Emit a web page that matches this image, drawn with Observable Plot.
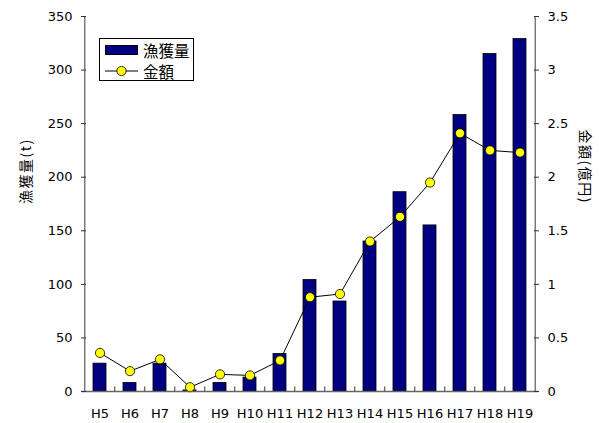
<!DOCTYPE html>
<html>
<head>
<meta charset="utf-8">
<script src="https://cdn.jsdelivr.net/npm/d3@7"></script>
<script src="https://cdn.jsdelivr.net/npm/@observablehq/plot@0.6"></script>
<style>
  html, body { margin: 0; padding: 0; background: #fff; }
  #wrap { position: relative; width: 599px; height: 423px; }
  #legend {
    position: absolute; left: 99px; top: 38px; width: 93px; height: 41px;
    border: 1px solid #000; background: #fff;
    font-family: "Noto Sans CJK JP", sans-serif; font-size: 15.5px; color: #000;
  }
  .row { position: absolute; left: 0; height: 20px; display: flex; align-items: center; }
  .sw { width: 33px; height: 20px; position: relative; margin-left: 5px; margin-right: 5px; }
</style>
</head>
<body>
<div id="wrap"></div>
<script>
const years = ["H5","H6","H7","H8","H9","H10","H11","H12","H13","H14","H15","H16","H17","H18","H19"];
const catchT = [26, 8, 26, 1, 8, 13, 35, 104, 84, 140, 186, 155, 258, 315, 329];
const amountOku = [0.36, 0.19, 0.30, 0.04, 0.16, 0.15, 0.29, 0.88, 0.91, 1.40, 1.63, 1.95, 2.41, 2.25, 2.23];
const leftTicks = [0, 50, 100, 150, 200, 250, 300, 350];
const rightTickLabels = ["0", "0.5", "1", "1.5", "2", "2.5", "3", "3.5"];
const seriesNames = ["漁獲量", "金額"];
const leftTitle = "漁獲量(t)";
const rightTitle = "金額(億円)";

const scaleRatio = 350 / 3.5; // right axis mapped onto left axis
const data = years.map((y, i) => ({year: y, catchT: catchT[i], amount: amountOku[i]}));

const W = 599, H = 423;
const mL = 81, mR = 61, mT = 16, mB = 32;
const step = (W - mL - mR) / years.length;

const font = "DejaVu Sans, Noto Sans CJK JP, sans-serif";

const chart = Plot.plot({
  width: W, height: H,
  marginLeft: mL, marginRight: mR, marginTop: mT, marginBottom: mB,
  style: {fontFamily: font, fontSize: "13px", color: "#000", background: "#fff"},
  x: {domain: years, paddingInner: 0.57, paddingOuter: 0.285, align: 0.5},
  y: {domain: [0, 350]},
  marks: [
    Plot.barY(data, {x: "year", y: "catchT", fill: "#000080", stroke: "#000", strokeWidth: 0.8}),
    Plot.lineY(data, {x: "year", y: d => d.amount * scaleRatio, stroke: "#000", strokeWidth: 1}),
    Plot.dot(data, {x: "year", y: d => d.amount * scaleRatio, r: 4.6, fill: "#ffff00", stroke: "#000", strokeWidth: 0.8}),
    // x boundary ticks (between categories, pointing up)
    Plot.ruleX(years.slice(1), {x: d => d, dx: -step / 2, y1: 0, y2: 4.5 * 350 / (H - mT - mB), stroke: "#333", strokeWidth: 1}),
    Plot.ruleY([0], {stroke: "#666", strokeWidth: 1.3}),
    Plot.ruleX([years[0]], {dx: -step / 2, stroke: "#666", strokeWidth: 1.3}),
    Plot.ruleX([years[years.length - 1]], {dx: step / 2, stroke: "#666", strokeWidth: 1.3}),
    Plot.axisY({anchor: "left", ticks: leftTicks, tickSize: -5, tickPadding: 14, label: null, stroke: "#333"}),
    Plot.axisY({anchor: "right", ticks: leftTicks, tickSize: -5, tickPadding: 14, label: null,
      tickFormat: (d) => rightTickLabels[leftTicks.indexOf(d)], stroke: "#333"}),
    Plot.axisX({tickSize: 0, tickPadding: 17, label: null}),
    Plot.text([leftTitle], {frameAnchor: "left", dx: -55, rotate: -90, text: d => d, fontFamily: "Noto Sans CJK JP", fontSize: 14}),
    Plot.text([rightTitle], {frameAnchor: "right", dx: 46, rotate: 90, text: d => d, fontFamily: "Noto Sans CJK JP", fontSize: 14})
  ]
});

d3.select(chart).selectAll("text").filter(function() {
  return this.textContent === leftTitle || this.textContent === rightTitle;
}).style("letter-spacing", "1.5px");

const wrap = document.getElementById("wrap");
wrap.appendChild(chart);

// legend
const legend = document.createElement("div");
legend.id = "legend";
legend.innerHTML = `
  <div class="row" style="top:1px">
    <div class="sw"><div style="position:absolute;left:0;top:5px;width:31px;height:8px;background:#000080;border:1px solid #000"></div></div>
    <span>${seriesNames[0]}</span>
  </div>
  <div class="row" style="top:22px">
    <div class="sw"><svg width="33" height="20" style="position:absolute;left:0;top:0">
      <line x1="0" x2="33" y1="10" y2="10" stroke="#000" stroke-width="1"/>
      <circle cx="16.5" cy="10" r="4.6" fill="#ffff00" stroke="#000" stroke-width="0.8"/>
    </svg></div>
    <span>${seriesNames[1]}</span>
  </div>`;
wrap.appendChild(legend);
</script>
</body>
</html>
